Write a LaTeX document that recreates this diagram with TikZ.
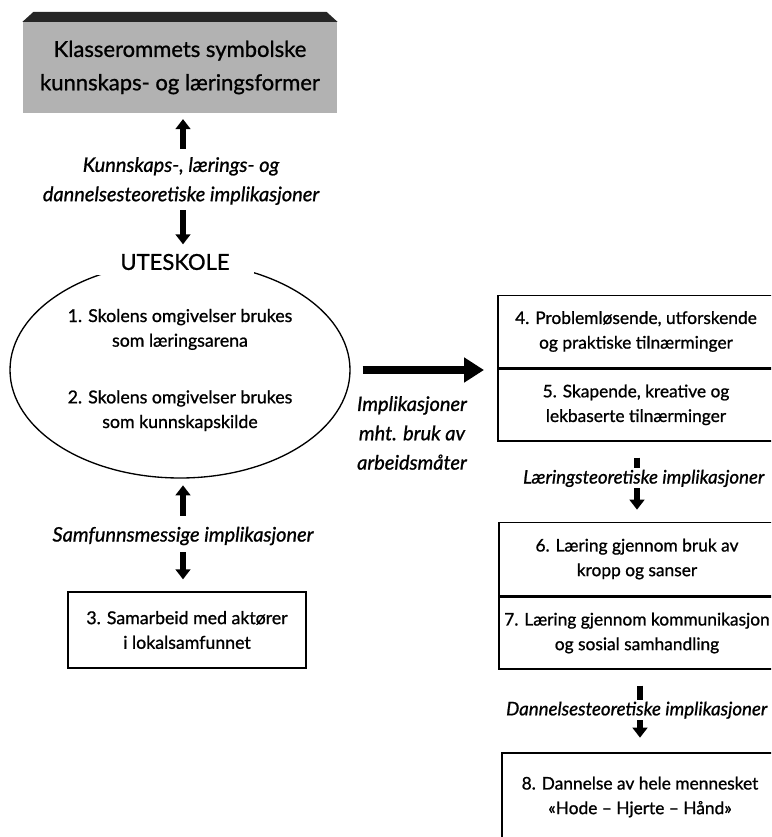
\documentclass[tikz,border=0pt]{standalone}
\usepackage{fontspec}
\setmainfont{Lato}[FakeBold=1]
\usetikzlibrary{arrows.meta,positioning,shapes.geometric}
\tikzset{
  >={Triangle[length=7.5pt,width=11pt]},
  tekst/.style={
    align=center, font=\fontsize{13.3}{18.5}\selectfont
  },
  kursiv/.style={
    align=center, inner sep=1pt, font=\itshape\fontsize{15}{22}\selectfont
  },
  boks/.style={
    draw, rectangle, line width=1pt, align=center, inner xsep=0pt, inner ysep=2pt,
    font=\fontsize{13}{18.5}\selectfont,
    minimum width=207pt, minimum height=54pt
  },
  pil/.style={->, line width=4pt},
  tykkpil/.style={-{Triangle[length=15pt,width=18pt]}, line width=5.5pt},
}

\begin{document}
\begin{tikzpicture}[x=0.75pt,y=-0.75pt]
  \path[use as bounding box, clip] (0,0) rectangle (771,837);

  % venstre side
  \node[fill=gray!60, minimum width=236pt, minimum height=68pt, align=center,
    font=\fontsize{16.5}{25}\selectfont] (klasserom) at (180,67.5)
    {Klasserommets symbolske\\kunnskaps- og læringsformer};
  \fill[black!85] (klasserom.north west) -- ++(11,-10)
    -- ([shift={(-11,-10)}]klasserom.north east) -- (klasserom.north east) -- cycle;

  \node[kursiv] (kunnlab) at (181,181)
    {Kunnskaps-, lærings- og\\dannelsesteoretiske implikasjoner};

  \node[draw, ellipse, line width=1pt, minimum width=255pt, minimum height=162pt,
    tekst] (omr) at (180,370)
    {1. Skolens omgivelser brukes\\som læringsarena\\[24pt]
     2. Skolens omgivelser brukes\\som kunnskapskilde};
  \node[fill=white, inner xsep=18pt, inner ysep=4pt,
    font=\fontsize{16.5}{20}\selectfont] (ute) at (175,262) {UTESKOLE};

  \node[kursiv] (samflab) at (183,536) {Samfunnsmessige implikasjoner};
  \node[boks, minimum width=178.5pt, minimum height=57pt, font=\fontsize{13.3}{18.5}\selectfont]
    (samarb) at (187,630) {3. Samarbeid med aktører\\i lokalsamfunnet};

  \draw[pil, shorten <=5pt, shorten >=4.5pt] (kunnlab.north -| 183,0) -- (klasserom.south -| 183,0);
  \draw[pil, shorten <=3pt, shorten >=3pt] (kunnlab.south -| 183,0) -- (ute.north -| 183,0);
  \draw[pil, shorten <=7pt, shorten >=5pt] (samflab.north -| 183,0) -- (omr.south -| 183,0);
  \draw[pil, shorten <=4pt, shorten >=9pt] (samflab.south -| 183,0) -- (samarb.north -| 183,0);

  % høyre side
  \node[boks] (probl) at (636,331.5)
    {4. Problemløsende, utforskende\\og praktiske tilnærminger};
  \node[boks, below=0pt of probl] (skap)
    {5. Skapende, kreative og\\lekbaserte tilnærminger};
  \node[boks, minimum height=55pt] (kropp) at (637,559)
    {6. Læring gjennom bruk av\\kropp og sanser};
  \node[boks, below=0pt of kropp] (komm)
    {7. Læring gjennom kommunikasjon\\og sosial samhandling};
  \node[boks, minimum height=66pt] (dann) at (640,797)
    {8. Dannelse av hele mennesket\\«Hode – Hjerte – Hånd»};

  \node[kursiv] (arblab) at (412,433)
    {Implikasjoner\\mht. bruk av\\arbeidsmåter};
  \draw[tykkpil, shorten <=9pt, shorten >=10pt] (omr.east) -- (omr.east -| probl.west);

  \draw[pil, shorten <=12pt, shorten >=9pt] (skap.south -| 637,0) -- (kropp.north -| 637,0)
    node[kursiv, fill=white, pos=0.46, font=\itshape\fontsize{14}{20}\selectfont,
      xshift=5pt] (laerlab) {Læringsteoretiske implikasjoner};
  \draw[pil, shorten <=12pt, shorten >=11pt] (komm.south -| 640,0) -- (dann.north -| 640,0)
    node[kursiv, fill=white, pos=0.49, font=\itshape\fontsize{14}{20}\selectfont,
      xshift=-2.5pt] (danlab) {Dannelsesteoretiske implikasjoner};
\end{tikzpicture}
\end{document}
